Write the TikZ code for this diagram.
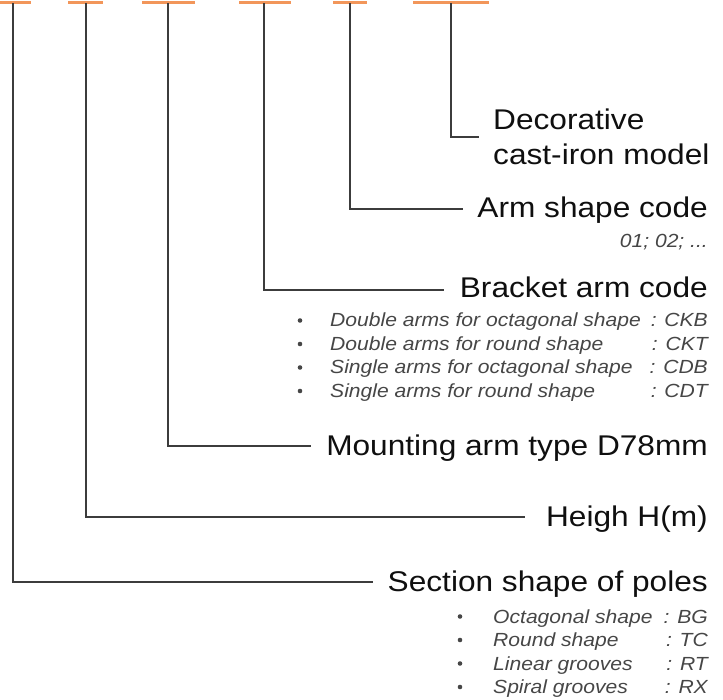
\documentclass[tikz,border=0pt]{standalone}
\usepackage{fontspec}
\newfontfamily\mainf[FakeStretch=1.11]{Liberation Sans}
\newfontfamily\smallf[FakeStretch=1.11,ItalicFont={Liberation Sans Italic}]{Liberation Sans}
\definecolor{barorange}{RGB}{242,150,90}
\definecolor{linegray}{RGB}{60,60,60}
\definecolor{textdark}{RGB}{15,15,15}
\definecolor{textgray}{RGB}{70,70,70}
\tikzset{
  topbar/.style={draw=barorange, line width=3pt},
  leader/.style={draw=linegray, line width=2pt},
  mainlabel/.style={inner sep=0pt, text=textdark, font=\mainf\fontsize{28.5}{34}\selectfont},
  sublabel/.style={inner sep=0pt, text=textgray, font=\smallf\fontsize{19}{23}\selectfont\itshape},
  bulletdot/.style={circle, fill=textgray, inner sep=0pt, minimum size=4.6pt}
}
\begin{document}
\begin{tikzpicture}[x=1pt,y=-1pt]
\useasboundingbox (0,0) rectangle (723,700);
% top bars
\draw[topbar] (0,2.5) -- (31,2.5);
\draw[topbar] (68,2.5) -- (103,2.5);
\draw[topbar] (142,2.5) -- (195,2.5);
\draw[topbar] (239,2.5) -- (291,2.5);
\draw[topbar] (333,2.5) -- (367,2.5);
\draw[topbar] (413,2.5) -- (489,2.5);
% stem tops
\coordinate (t1) at (13,3.5);
\coordinate (t2) at (86,3.5);
\coordinate (t3) at (168,3.5);
\coordinate (t4) at (264,3.5);
\coordinate (t5) at (350,3.5);
\coordinate (t6) at (451,3.5);
% leader ends
\coordinate (e1) at (373,582);
\coordinate (e2) at (525,517);
\coordinate (e3) at (311,446);
\coordinate (e4) at (444,290);
\coordinate (e5) at (463,209);
\coordinate (e6) at (479,137);
% leaders
\draw[leader] (t1) |- (e1);
\draw[leader] (t2) |- (e2);
\draw[leader] (t3) |- (e3);
\draw[leader] (t4) |- (e4);
\draw[leader] (t5) |- (e5);
\draw[leader] (t6) |- (e6);
% labels
\node[mainlabel, anchor=base west] (dec1) at (493,130) {Decorative};
\node[mainlabel, anchor=base west] (dec2) at (493,165) {cast-iron model};
\node[mainlabel, anchor=base east] (arm) at (708,218) {Arm shape code};
\node[sublabel, anchor=base east] (armcodes) at (708,248) {01; 02; ...};
\node[mainlabel, anchor=base east] (bracket) at (708,298) {Bracket arm code};
\node[mainlabel, anchor=base east] (mount) at (708,455) {Mounting arm type D78mm};
\node[mainlabel, anchor=base east] (heigh) at (708,526) {Heigh H(m)};
\node[mainlabel, anchor=base east] (section) at (708,591) {Section shape of poles};
% bracket list
\foreach \y/\t/\c [count=\i] in {327/Double arms for octagonal shape/CKB, 350.5/Double arms for round shape/CKT, 374/Single arms for octagonal shape/CDB, 397.5/Single arms for round shape/CDT}{
  \node[bulletdot] (bb\i) at (300,\y-6.5) {};
  \node[sublabel, anchor=base west] (bt\i) at (330,\y) {\t};
  \node[sublabel, anchor=base east] (bc\i) at (708,\y) {: \c};
}
% section list
\foreach \y/\t/\c [count=\i] in {623/Octagonal shape/BG, 646.5/Round shape/TC, 670/Linear grooves/RT, 693.5/Spiral grooves/RX}{
  \node[bulletdot] (sb\i) at (460,\y-6.5) {};
  \node[sublabel, anchor=base west] (st\i) at (493,\y) {\t};
  \node[sublabel, anchor=base east] (sc\i) at (708,\y) {: \c};
}
\end{tikzpicture}
\end{document}
